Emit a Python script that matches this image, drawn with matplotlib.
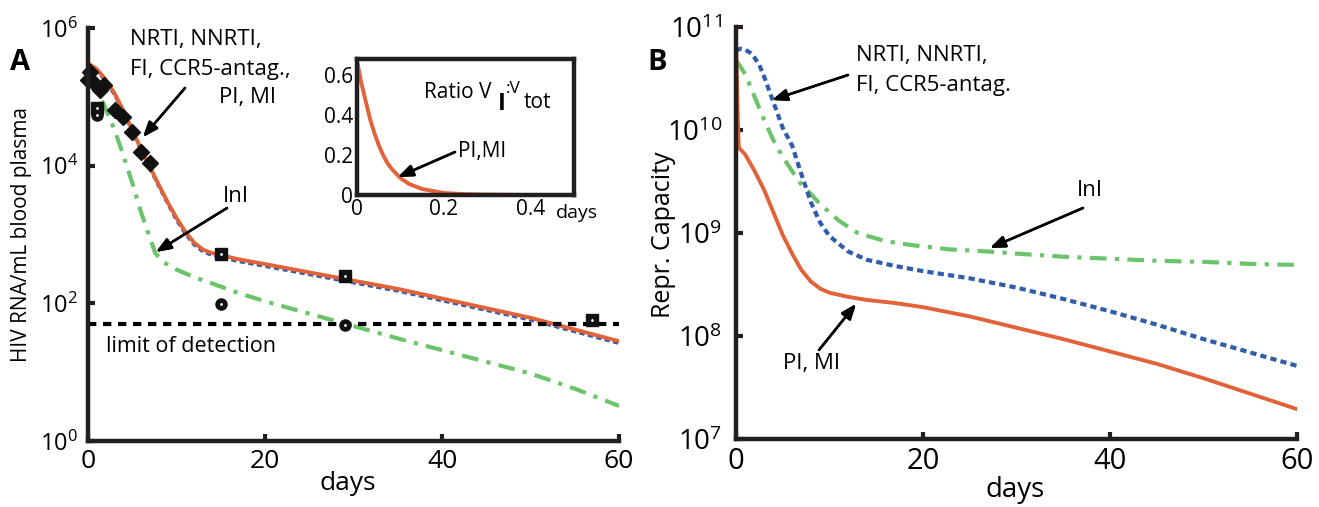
import matplotlib
matplotlib.use("Agg")
import matplotlib.pyplot as plt
from matplotlib.ticker import FixedLocator, FuncFormatter, NullLocator
import numpy as np

# ---- data (log10 values) ----
# panel A: HIV RNA in plasma
a_days = [0, 1, 2, 3, 4, 5, 6, 7, 8, 9, 10, 11, 12, 13, 14, 15, 17, 20, 25, 30, 35, 40, 45, 50, 55, 60]
a_pimi = [5.49, 5.40, 5.25, 5.05, 4.80, 4.52, 4.24, 3.98, 3.72, 3.47, 3.24, 3.04, 2.88, 2.78, 2.73, 2.70,
          2.64, 2.57, 2.45, 2.33, 2.21, 2.07, 1.93, 1.79, 1.62, 1.45]
a_nrti = [5.47, 5.38, 5.23, 5.03, 4.78, 4.50, 4.22, 3.96, 3.70, 3.45, 3.21, 3.01, 2.85, 2.75, 2.70, 2.67,
          2.61, 2.54, 2.42, 2.30, 2.18, 2.04, 1.90, 1.76, 1.59, 1.42]
a_ini_days = [0, 0.5, 1, 2, 3, 4, 5, 6, 7, 7.6, 8.5, 10, 12, 14, 17, 20, 25, 30, 35, 40, 45, 50, 55, 60]
a_ini = [5.45, 5.30, 5.10, 4.83, 4.52, 4.15, 3.75, 3.32, 2.95, 2.73, 2.60, 2.49, 2.38, 2.29, 2.15, 2.03,
         1.85, 1.67, 1.49, 1.32, 1.15, 0.98, 0.76, 0.51]
diamond_days = [0, 0.2, 0.6, 1.4, 1.8, 3, 4, 5, 6, 7]
diamond_vals = [5.25, 5.36, 5.22, 5.10, 5.17, 4.81, 4.71, 4.49, 4.20, 4.04]
square_days = [1, 15, 29, 57]
square_vals = [4.84, 2.72, 2.40, 1.76]
circle_days = [1, 15, 29]
circle_vals = [4.74, 1.99, 1.69]
detection_limit = 50

# inset: ratio V_I : V_tot
ins_days = [0, 0.01, 0.02, 0.03, 0.04, 0.05, 0.06, 0.07, 0.08, 0.1, 0.12, 0.15, 0.2, 0.25, 0.3, 0.4, 0.5]
ins_ratio = [0.67, 0.56, 0.47, 0.38, 0.31, 0.25, 0.20, 0.16, 0.13, 0.085, 0.055, 0.03, 0.01, 0.004, 0.002, 0.0, 0.0]

# panel B: replicative capacity
b_days = [0, 0.1, 0.2, 0.3, 1, 2, 3, 4, 5, 6, 7, 8, 9, 10, 12, 14, 17, 20, 25, 30, 35, 40, 45, 50, 55, 60]
b_pimi = [10.83, 10.5, 10.1, 9.83, 9.76, 9.60, 9.42, 9.20, 8.98, 8.80, 8.64, 8.53, 8.46, 8.42, 8.38, 8.35,
          8.32, 8.28, 8.19, 8.08, 7.97, 7.85, 7.73, 7.59, 7.44, 7.29]
b_nrti_days = [0, 0.5, 1, 1.5, 2, 2.5, 3, 4, 5, 6, 7, 8, 9, 10, 12, 14, 17, 20, 25, 30, 35, 40, 45, 50, 55, 60]
b_nrti = [10.77, 10.79, 10.78, 10.75, 10.70, 10.63, 10.52, 10.27, 10.02, 9.85, 9.57, 9.30, 9.10, 8.97, 8.82,
          8.74, 8.68, 8.63, 8.56, 8.47, 8.36, 8.24, 8.11, 7.97, 7.84, 7.71]
b_ini_days = [0, 1, 2, 3, 4, 5, 6, 7, 8, 9, 10, 11, 13, 16, 19, 23, 27, 30, 35, 40, 45, 50, 55, 60]
b_ini = [10.68, 10.54, 10.32, 10.10, 9.90, 9.74, 9.60, 9.47, 9.38, 9.28, 9.20, 9.12, 9.00, 8.92, 8.88, 8.84,
         8.82, 8.80, 8.77, 8.75, 8.73, 8.72, 8.70, 8.69]

ORANGE = "#e2623a"
BLUE = "#2f5cab"
GREEN = "#6cc46a"
INK = "#231f20"

plt.rcParams["font.family"] = ["Open Sans", "DejaVu Sans"]
plt.rcParams["mathtext.fontset"] = "custom"
plt.rcParams["mathtext.rm"] = "Open Sans"
plt.rcParams["mathtext.it"] = "Open Sans"

W, H = 1319, 507
fig = plt.figure(figsize=(W / 100, H / 100), dpi=100)


def box(x0, y0, x1, y1):
    # pixel box (top-left origin) -> figure fraction rect
    return [x0 / W, 1 - y1 / H, (x1 - x0) / W, (y1 - y0) / H]


def fp(x, y):
    return (x, H - y)


def pow10(v):
    return 10.0 ** np.asarray(v)


def style_main(ax, decades, ysize, xsize, ypad):
    ax.set_yscale("log")
    for s in ("top", "right"):
        ax.spines[s].set_visible(False)
    for s in ("left", "bottom"):
        ax.spines[s].set_linewidth(3.2)
        ax.spines[s].set_color(INK)
    ax.yaxis.set_major_locator(FixedLocator([10.0 ** d for d in decades]))
    ax.yaxis.set_minor_locator(NullLocator())
    ax.yaxis.set_major_formatter(FuncFormatter(lambda v, p: r"$10^{%d}$" % round(np.log10(v))))
    ax.set_xticks([0, 20, 40, 60])
    ax.tick_params(direction="in", length=5, width=3, color=INK)
    ax.tick_params(axis="y", labelsize=ysize, pad=ypad)
    ax.tick_params(axis="x", labelsize=xsize, pad=6)
    ax.set_xlim(0, 60)


# ---------------- panel A ----------------
axA = fig.add_axes(box(88, 28, 619, 441))
style_main(axA, [0, 2, 4, 6], 17, 19, 7)
axA.set_ylim(1, 1e6)
axA.plot(a_ini_days, pow10(a_ini), color=GREEN, lw=3, dashes=(4, 2, 1, 2))
axA.plot(a_days, pow10(a_nrti), color=BLUE, lw=2.5, dashes=(1.5, 1))
axA.plot(a_days, pow10(a_pimi), color=ORANGE, lw=2.8)
axA.plot([0, 60], [detection_limit, detection_limit], color="black", lw=3, dashes=(2, 1.6))
axA.plot(diamond_days, pow10(diamond_vals), "D", color="#111111", ms=8.5, clip_on=False)
axA.plot(square_days, pow10(square_vals), "s", color="#111111", ms=8, clip_on=False)
axA.plot(circle_days, pow10(circle_vals), "o", color="#111111", ms=8, clip_on=False)
axA.plot(square_days + circle_days, pow10(square_vals + circle_vals), ".", color="white", ms=2, clip_on=False)

# inset
axI = fig.add_axes(box(357, 59, 574, 195))
axI.plot(ins_days, ins_ratio, color=ORANGE, lw=2.8, clip_on=False)
axI.set_xlim(0, 0.5)
axI.set_ylim(0, 0.68)
axI.set_xticks([0, 0.2, 0.4])
axI.set_xticklabels(["0", "0.2", "0.4"])
axI.set_yticks([0, 0.2, 0.4, 0.6])
axI.set_yticklabels(["0", "0.2", "0.4", "0.6"])
axI.tick_params(length=0, labelsize=15, pad=3)
for s in axI.spines.values():
    s.set_linewidth(3.2)
    s.set_color(INK)

# ---------------- panel B ----------------
axB = fig.add_axes(box(736, 27, 1297, 439))
style_main(axB, [7, 8, 9, 10, 11], 20, 21, 10)
axB.set_ylim(1e7, 1e11)
axB.plot(b_ini_days, pow10(b_ini), color=GREEN, lw=3, dashes=(4, 2, 1, 2))
axB.plot(b_nrti_days, pow10(b_nrti), color=BLUE, lw=3, dashes=(1.5, 1))
axB.plot(b_days, pow10(b_pimi), color=ORANGE, lw=2.8)

# ---------------- labels & annotations ----------------
fig.text(20 / W, 1 - 63 / H, "A", fontsize=21, fontweight="bold", ha="center", va="center")
fig.text(657 / W, 1 - 63 / H, "B", fontsize=21, fontweight="bold", ha="center", va="center")
fig.text(22 / W, 1 - 235 / H, "HIV RNA/mL blood plasma", fontsize=15, rotation=90, ha="center", va="center")
fig.text(664 / W, 1 - 235 / H, "Repr. Capacity", fontsize=18, rotation=90, ha="center", va="center")
fig.text(348 / W, 1 - 484 / H, "days", fontsize=19, ha="center", va="center")
fig.text(1015 / W, 1 - 490 / H, "days", fontsize=20, ha="center", va="center")

txt = dict(fontsize=16, va="center")
fig.text(130 / W, 1 - 39 / H, "NRTI, NNRTI,", ha="left", **txt)
fig.text(130 / W, 1 - 70 / H, "FI, CCR5-antag.,", ha="left", **txt)
fig.text(276 / W, 1 - 98 / H, "PI, MI", ha="right", **txt)
fig.text(236 / W, 1 - 197 / H, "InI", ha="center", **txt)
fig.text(106 / W, 1 - 347 / H, "limit of detection", ha="left", fontsize=15.5, va="center")

fig.text(424 / W, 1 - 92 / H, "Ratio V", ha="left", fontsize=15, va="center")
fig.text(502 / W, 1 - 104 / H, "I", ha="center", fontsize=17, fontweight="bold", va="center")
fig.text(506 / W, 1 - 89 / H, ":V", ha="left", fontsize=12.5, va="center")
fig.text(524 / W, 1 - 103 / H, "tot", ha="left", fontsize=15, va="center")
fig.text(458 / W, 1 - 152 / H, "PI,MI", ha="left", fontsize=15, va="center")
fig.text(577 / W, 1 - 213 / H, "days", ha="center", fontsize=14, va="center")

fig.text(856 / W, 1 - 55 / H, "NRTI, NNRTI,", ha="left", **txt)
fig.text(856 / W, 1 - 85 / H, "FI, CCR5-antag.", ha="left", **txt)
fig.text(1090 / W, 1 - 190 / H, "InI", ha="center", **txt)
fig.text(812 / W, 1 - 364 / H, "PI, MI", ha="center", **txt)

arrow = dict(arrowstyle="-|>,head_width=0.35,head_length=0.9", color="black", lw=1.8, shrinkA=0, shrinkB=0)
arrows = [((185, 88), (143, 137)), ((227, 208), (156, 252)), ((455, 152), (398, 177)),
          ((848, 75), (772, 100)), ((1083, 208), (990, 248)), ((819, 350), (856, 304))]
for tail, tip in arrows:
    fig.add_artist(plt.annotate("", xy=fp(*tip), xytext=fp(*tail), xycoords="figure pixels",
                                textcoords="figure pixels", arrowprops=arrow))

fig.savefig("out.png", dpi=100)
